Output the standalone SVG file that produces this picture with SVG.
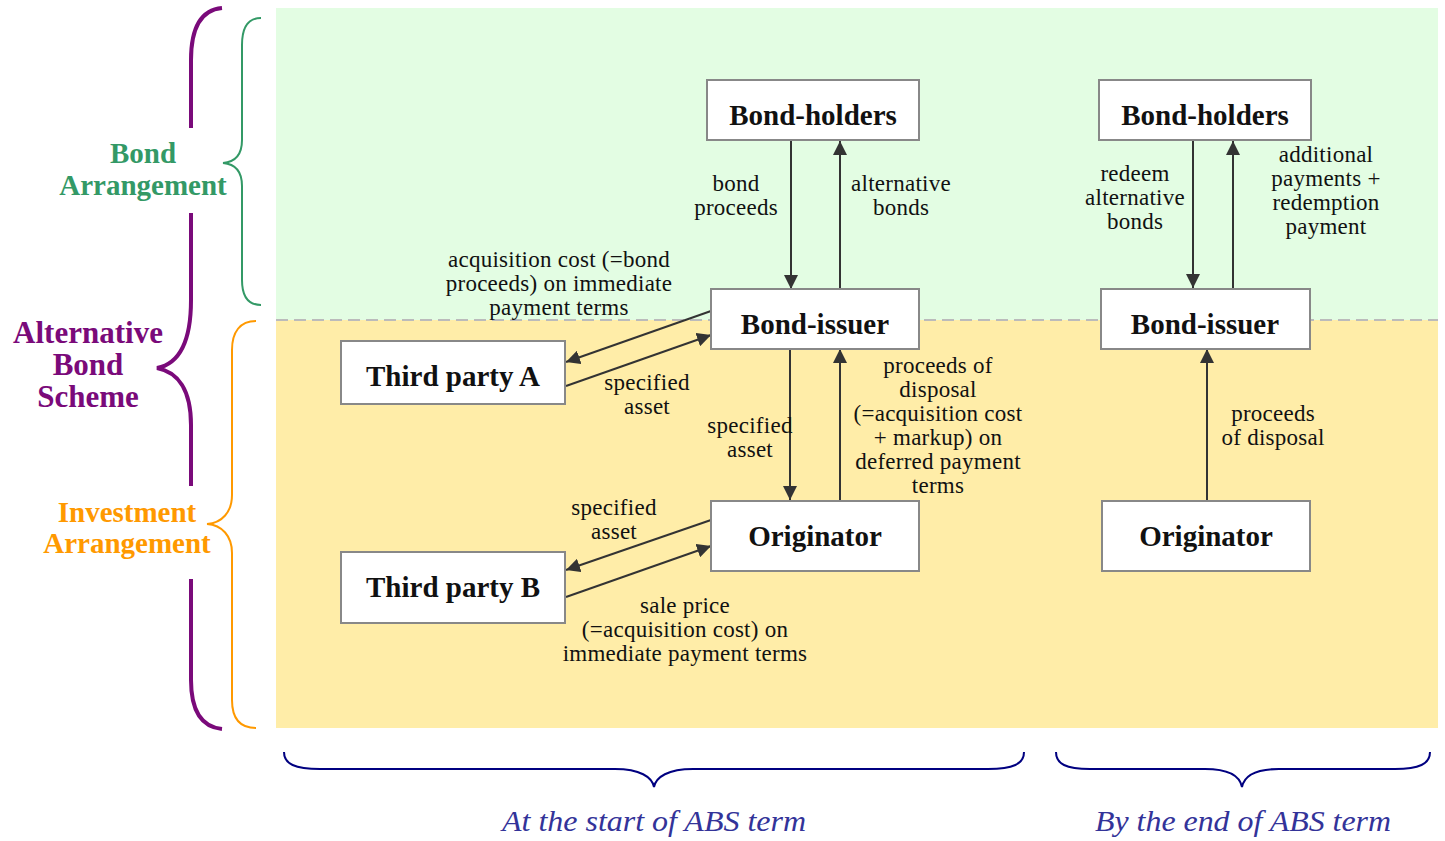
<svg xmlns="http://www.w3.org/2000/svg" width="1445" height="841" viewBox="0 0 1445 841">
<style>
.node rect{fill:#fff;stroke:#888;stroke-width:2}
.node text{font-family:"Liberation Serif","Times New Roman",serif;font-weight:bold;font-size:29px;fill:#111;text-anchor:middle}
.lbl{font-family:"Liberation Serif","Times New Roman",serif;font-size:23px;letter-spacing:0.25px;fill:#111;text-anchor:middle}
.side{font-family:"Liberation Serif","Times New Roman",serif;font-weight:bold;font-size:29px;text-anchor:middle}
.edge{stroke:#333;stroke-width:2;fill:none;marker-end:url(#ah)}
.foot{font-family:"Liberation Serif","Times New Roman",serif;font-style:italic;font-size:29px;fill:#333399;text-anchor:middle}
</style>
<defs>
<marker id="ah" viewBox="0 0 14 14" refX="14" refY="7" markerWidth="14" markerHeight="14" markerUnits="userSpaceOnUse" orient="auto">
<path d="M0,0 L14,7 L0,14 z" fill="#333"/>
</marker>
</defs>
<rect width="1445" height="841" fill="#fff"/>
<g id="background">
<rect x="276" y="8" width="1162" height="312" fill="#e3fde3"/>
<rect x="276" y="320" width="1162" height="408" fill="#ffeda8"/>
<line x1="276" y1="320" x2="1438" y2="320" stroke="#bbb" stroke-width="2" stroke-dasharray="12,6"/>
</g>
<g id="braces" fill="none">
<path d="M222,8 C200,10 191,30 191,60 L191,128" stroke="#7a0a7a" stroke-width="4"/>
<path d="M191,213 L191,300 C191,345 178,364 157,368 C178,372 191,390 191,425 L191,486" stroke="#7a0a7a" stroke-width="4"/>
<path d="M191,579 L191,680 C191,712 202,727 222,729" stroke="#7a0a7a" stroke-width="4"/>
<path d="M261,18 C248,18 242,28 242,45 L242,140 C242,155 235,162 223,163 C235,164 242,171 242,186 L242,280 C242,297 248,305 261,305" stroke="#339966" stroke-width="2"/>
<path d="M256,321 C240,321 232,332 232,350 L232,495 C232,512 222,523 207,524 C222,525 232,536 232,553 L232,700 C232,718 240,728 256,728" stroke="#ff9900" stroke-width="2"/>
<path d="M284,752 C284,764 295,769 320,769 L615,769 C640,769 652,777 654,787 C656,777 668,769 693,769 L988,769 C1013,769 1024,764 1024,752" stroke="#000080" stroke-width="2"/>
<path d="M1056,752 C1056,764 1066,769 1090,769 L1205,769 C1230,769 1240,777 1242,787 C1244,777 1254,769 1279,769 L1395,769 C1419,769 1430,764 1430,752" stroke="#000080" stroke-width="2"/>
</g>
<g id="side-labels">
<text class="side" fill="#339966" x="143" y="163">Bond</text>
<text class="side" fill="#339966" x="143" y="195">Arrangement</text>
<text class="side" fill="#7a0a7a" x="88" y="343" style="font-size:31px">Alternative</text>
<text class="side" fill="#7a0a7a" x="88" y="375" style="font-size:31px">Bond</text>
<text class="side" fill="#7a0a7a" x="88" y="407" style="font-size:31px">Scheme</text>
<text class="side" fill="#ff9900" x="127" y="522">Investment</text>
<text class="side" fill="#ff9900" x="127" y="553">Arrangement</text>
</g>
<g id="connectors">
<line class="edge" x1="791" y1="141" x2="791" y2="289"/>
<line class="edge" x1="840" y1="289" x2="840" y2="141"/>
<line class="edge" x1="1193" y1="141" x2="1193" y2="288"/>
<line class="edge" x1="1233" y1="289" x2="1233" y2="141"/>
<line class="edge" x1="711" y1="311" x2="566" y2="362"/>
<line class="edge" x1="566" y1="386" x2="711" y2="335"/>
<line class="edge" x1="790" y1="349" x2="790" y2="500"/>
<line class="edge" x1="840" y1="501" x2="840" y2="349"/>
<line class="edge" x1="711" y1="520" x2="566" y2="570"/>
<line class="edge" x1="566" y1="597" x2="711" y2="546"/>
<line class="edge" x1="1207" y1="501" x2="1207" y2="349"/>
</g>
<g id="edge-labels">
<text class="lbl" x="736" y="191">bond</text>
<text class="lbl" x="736" y="215">proceeds</text>
<text class="lbl" x="901" y="191">alternative</text>
<text class="lbl" x="901" y="215">bonds</text>
<text class="lbl" x="559" y="267">acquisition cost (=bond</text>
<text class="lbl" x="559" y="291">proceeds) on immediate</text>
<text class="lbl" x="559" y="315">payment terms</text>
<text class="lbl" x="647" y="390">specified</text>
<text class="lbl" x="647" y="414">asset</text>
<text class="lbl" x="750" y="433">specified</text>
<text class="lbl" x="750" y="457">asset</text>
<text class="lbl" x="938" y="373">proceeds of</text>
<text class="lbl" x="938" y="397">disposal</text>
<text class="lbl" x="938" y="421">(=acquisition cost</text>
<text class="lbl" x="938" y="445">+ markup) on</text>
<text class="lbl" x="938" y="469">deferred payment</text>
<text class="lbl" x="938" y="493">terms</text>
<text class="lbl" x="614" y="515">specified</text>
<text class="lbl" x="614" y="539">asset</text>
<text class="lbl" x="685" y="613">sale price</text>
<text class="lbl" x="685" y="637">(=acquisition cost) on</text>
<text class="lbl" x="685" y="661">immediate payment terms</text>
<text class="lbl" x="1135" y="181">redeem</text>
<text class="lbl" x="1135" y="205">alternative</text>
<text class="lbl" x="1135" y="229">bonds</text>
<text class="lbl" x="1326" y="162">additional</text>
<text class="lbl" x="1326" y="186">payments +</text>
<text class="lbl" x="1326" y="210">redemption</text>
<text class="lbl" x="1326" y="234">payment</text>
<text class="lbl" x="1273" y="421">proceeds</text>
<text class="lbl" x="1273" y="445">of disposal</text>
</g>
<g id="node-bondholders-1" class="node"><rect x="707" y="80" width="212" height="60"/><text x="813" y="125">Bond-holders</text></g>
<g id="node-bondholders-2" class="node"><rect x="1099" y="80" width="212" height="60"/><text x="1205" y="125">Bond-holders</text></g>
<g id="node-bondissuer-1" class="node"><rect x="711" y="289" width="208" height="60"/><text x="815" y="334">Bond-issuer</text></g>
<g id="node-bondissuer-2" class="node"><rect x="1101" y="289" width="209" height="60"/><text x="1205" y="334">Bond-issuer</text></g>
<g id="node-thirdparty-a" class="node"><rect x="341" y="341" width="224" height="63"/><text x="453" y="386">Third party A</text></g>
<g id="node-originator-1" class="node"><rect x="711" y="501" width="208" height="70"/><text x="815" y="546">Originator</text></g>
<g id="node-thirdparty-b" class="node"><rect x="341" y="552" width="224" height="71"/><text x="453" y="597">Third party B</text></g>
<g id="node-originator-2" class="node"><rect x="1102" y="501" width="208" height="70"/><text x="1206" y="546">Originator</text></g>
<g id="footer">
<text class="foot" x="654" y="831" textLength="304" lengthAdjust="spacingAndGlyphs">At the start of ABS term</text>
<text class="foot" x="1243" y="831" textLength="296" lengthAdjust="spacingAndGlyphs">By the end of ABS term</text>
</g>
</svg>
